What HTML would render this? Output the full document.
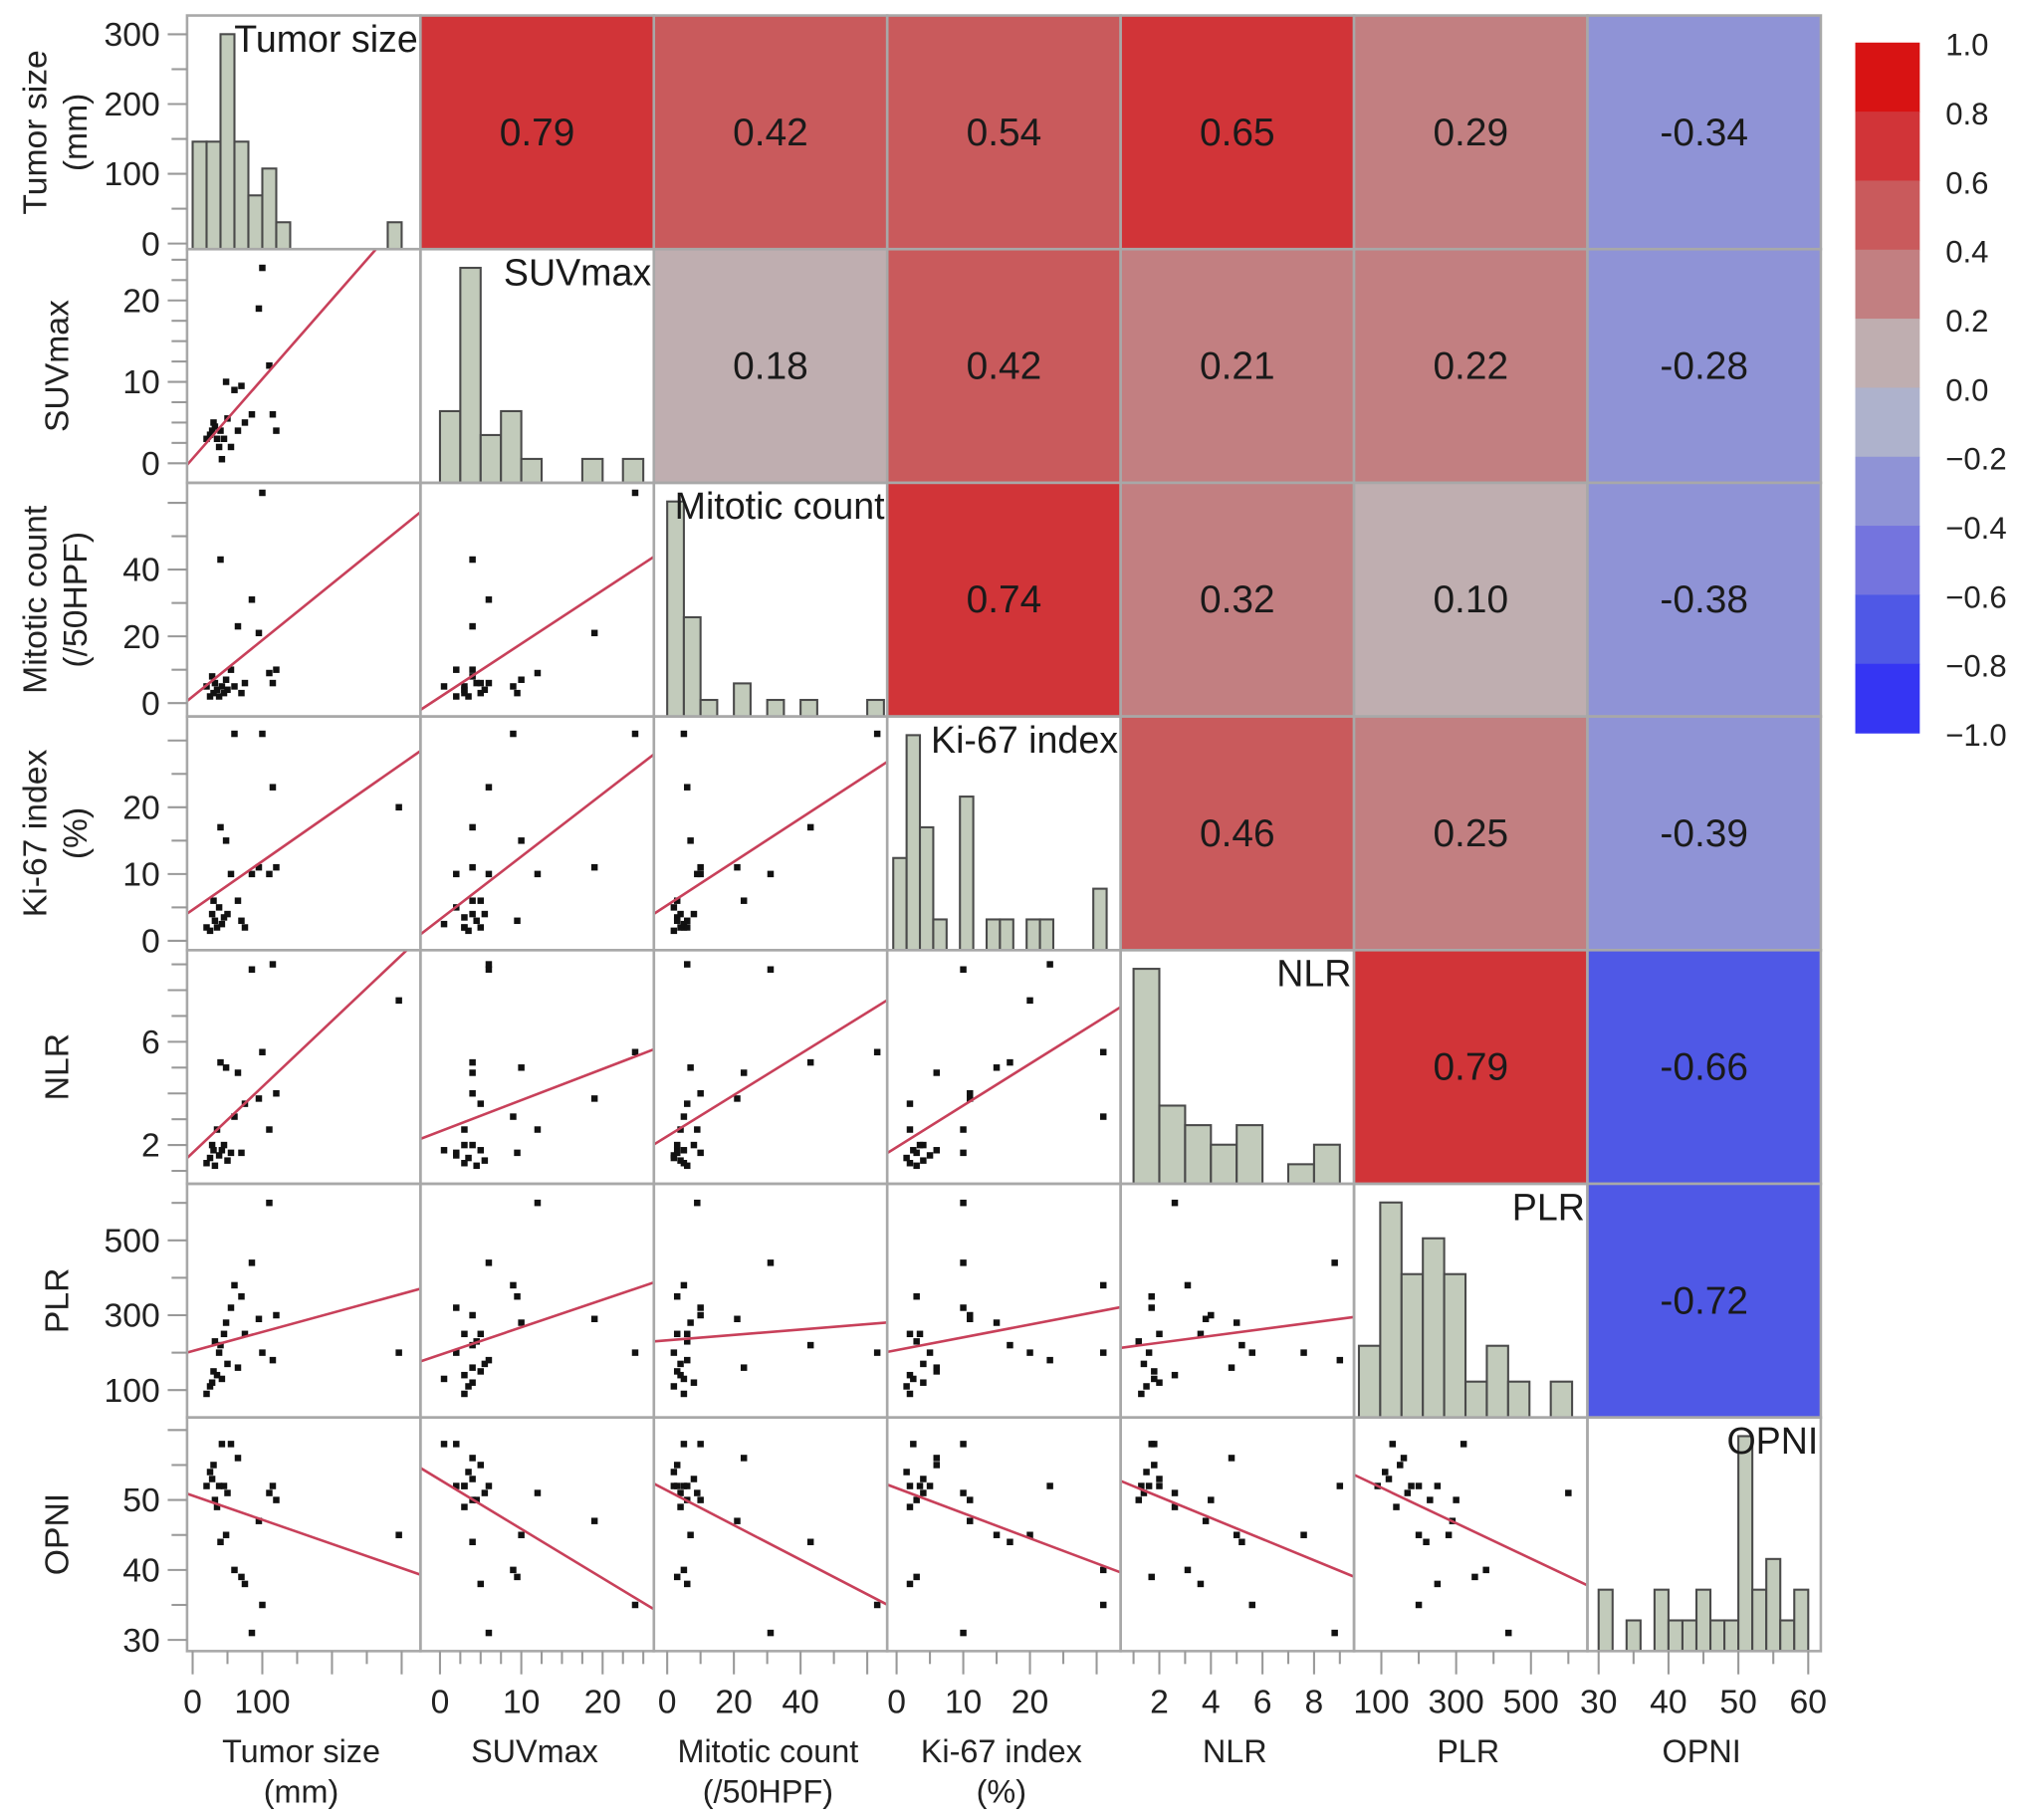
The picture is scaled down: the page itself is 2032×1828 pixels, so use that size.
<!DOCTYPE html>
<html><head><meta charset="utf-8"><style>
html,body{margin:0;padding:0;background:#fff;}
svg{display:block;font-family:"Liberation Sans",Arial,sans-serif;}
</style></head><body>
<svg id="chart" width="2032" height="1828" viewBox="0 0 1568 1410.6" preserveAspectRatio="none" xmlns="http://www.w3.org/2000/svg"></svg>
<script>
// ---- data ----
const varNames = ["Tumor size","SUVmax","Mitotic count","Ki-67 index","NLR","PLR","OPNI"];
const tumorSize = [20,25,28,30,32,35,38,40,42,45,48,50,55,60,65,70,75,85,95,100,110,115,120,296];
const suvmax    = [3,3.5,4,5,4.5,3,2,4,0.5,3,10,5.5,2,9,4,9.5,5,6,19,24,12,6,4,null];
const mitotic   = [5,2,8,3,6,4,2,43,5,3,7,4,10,5,23,3,6,31,21,63,9,6,10,null];
const ki67      = [2,1.5,4,6,3,2,5,17,2.5,3.5,15,4,10,31,6,3,2,10,11,31,10,23,11,20];
const nlr       = [1.3,1.5,2.0,1.8,1.2,2.6,1.6,5.2,1.8,2.0,5.0,1.4,1.7,3.1,4.8,1.7,3.6,8.8,3.8,5.6,2.6,9.0,4.0,7.6];
const plr       = [90,110,120,150,230,140,200,220,130,250,280,170,320,380,160,350,250,440,290,200,600,180,300,200];
const opni      = [52,54,53,55,50,49,52,44,58,52,45,51,58,40,56,39,38,31,47,35,51,52,50,45];
const corrValues = [
  [0.79,0.42,0.54,0.65,0.29,-0.34],
  [0.18,0.42,0.21,0.22,-0.28],
  [0.74,0.32,0.10,-0.38],
  [0.46,0.25,-0.39],
  [0.79,-0.66],
  [-0.72]
];
const histTumorCounts = [4,4,8,4,2,3,1,0,0,0,0,0,0,0,1];
const histSuvCounts = [3,9,2,3,1,0,0,1,0,1];
const histMitoticCounts = [13,6,1,0,2,0,1,0,1,0,0,0,1];
const histKiCounts = [3,7,4,1,0,5,0,1,1,0,1,1,0,0,0,2];
const histNlrCounts = [11,4,3,2,3,0,1,2];
const histPlrCounts = [2,6,4,5,4,1,2,1,0,1];
const histOpniCounts = [2,0,1,0,2,1,1,2,1,1,7,2,3,1,2];
const histOrigins = [0,0,0,-0.5,1,40,30];
const histWidths = [20,2.5,5,2,1,57,2];
const leftTickLabels = [[0,100,200,300],[0,10,20],[0,20,40],[0,10,20],[2,6],[100,300,500],[30,40,50]];
const bottomTickLabels = [[0,100],[0,10,20],[0,20,40],[0,10,20],[2,4,6,8],[100,300,500],[30,40,50,60]];
const majorTicks = [[0,100,200,300],[0,10,20],[0,20,40,60],[0,10,20,30],[2,4,6,8],[100,300,500],[30,40,50,60]];
const minorTicks = [[50,150,250],[2.5,5,7.5,12.5,15,17.5,22.5,25],[10,30,50],[5,15,25],[1,3,5,7,9],[200,400,600],[35,45,55]];
const colorbarLabels = ["1.0","0.8","0.6","0.4","0.2","0.0","\u22120.2","\u22120.4","\u22120.6","\u22120.8","\u22121.0"];
const colorBands = ["#3535f3","#4f58e6","#7474de","#8f93d6","#aeb2cc","#bfaeb0","#c27f81","#c95a5c","#d13438","#d81313"];

const series = [tumorSize,suvmax,mitotic,ki67,nlr,plr,opni];
const hists = [histTumorCounts,histSuvCounts,histMitoticCounts,histKiCounts,histNlrCounts,histPlrCounts,histOpniCounts];
const domains = [[-8,327],[-2.4,26.3],[-4,66],[-1.4,33.6],[0.5,9.55],[27,651],[28.4,61.8]];
const leftTitles = [["Tumor size","(mm)"],["SUVmax"],["Mitotic count","(/50HPF)"],["Ki-67 index","(%)"],["NLR"],["PLR"],["OPNI"]];
const bottomTitles = leftTitles;

// ---- layout ----
const NS="http://www.w3.org/2000/svg";
const svg=document.getElementById("chart");
const X0=145, Y0=12, CW=180.9, CH=181.1, N=7;
function mk(tag,attrs,parent){const e=document.createElementNS(NS,tag);for(const k in attrs)e.setAttribute(k,attrs[k]);(parent||svg).appendChild(e);return e;}
function xs(v,c,val){const d=domains[v];return X0+c*CW+(val-d[0])/(d[1]-d[0])*CW;}
function ys(v,r,val){const d=domains[v];return Y0+(r+1)*CH-(val-d[0])/(d[1]-d[0])*CH;}
function corrColor(r){let b=Math.floor((r+1)/0.2);if(b<0)b=0;if(b>9)b=9;return colorBands[b];}

const defs=mk("defs",{});
for(let r=0;r<N;r++)for(let c=0;c<N;c++){
  const cp=mk("clipPath",{id:"cp"+r+"_"+c},defs);
  mk("rect",{x:X0+c*CW,y:Y0+r*CH,width:CW,height:CH},cp);
}

for(let r=0;r<N;r++){
  for(let c=0;c<N;c++){
    const cx=X0+c*CW, cy=Y0+r*CH;
    const g=mk("g",{});
    if(c>r){
      
      
      const val=corrValues[r][c-r-1];
      mk("rect",{x:cx,y:cy,width:CW,height:CH,fill:corrColor(val)},g);
      const t=mk("text",{x:cx+CW/2,y:cy+CH/2+10,"text-anchor":"middle","font-size":30,fill:"#1a1a1a"},g);
      t.textContent=val.toFixed(2);
    } else if(c===r){
      
      
      const counts=hists[r];const mx=Math.max(...counts);
      for(let i=0;i<counts.length;i++){
        if(!counts[i])continue;
        const a=xs(r,c,histOrigins[r]+i*histWidths[r]), b=xs(r,c,histOrigins[r]+(i+1)*histWidths[r]);
        const h=counts[i]/mx*CH*0.92;
        const bar=mk("rect",{x:a,y:cy+CH-h,width:b-a,height:h,fill:"#c2cbbb",stroke:"#4a4a4a","stroke-width":1.6,"clip-path":"url(#cp"+r+"_"+c+")"},g);
        
        
      }
      const t=mk("text",{x:cx+CW-2,y:cy+28,"text-anchor":"end","font-size":29,fill:"#1a1a1a"},g);
      
      
      t.textContent=varNames[r];
    } else {
      
      
      const xv=series[c], yv=series[r];
      let n=0,sxs=0,sys=0,sxx=0,sxy=0;
      for(let i=0;i<xv.length;i++){
        if(xv[i]==null||yv[i]==null)continue;
        n++;sxs+=xv[i];sys+=yv[i];sxx+=xv[i]*xv[i];sxy+=xv[i]*yv[i];
        const p=mk("rect",{x:xs(c,c,xv[i])-2.5,y:ys(r,r,yv[i])-2.5,width:5,height:5,fill:"#111"},g);
        
        
      }
      const slope=(n*sxy-sxs*sys)/(n*sxx-sxs*sxs), icpt=(sys-slope*sxs)/n;
      const d=domains[c];
      const ln=mk("line",{x1:xs(c,c,d[0]),y1:ys(r,r,icpt+slope*d[0]),x2:xs(c,c,d[1]),y2:ys(r,r,icpt+slope*d[1]),stroke:"#c8405a","stroke-width":2,"clip-path":"url(#cp"+r+"_"+c+")"},g);
      
      
    }
    mk("rect",{x:cx,y:cy,width:CW,height:CH,fill:"none",stroke:"#a8a8a8","stroke-width":2},g);
  }
}

// left axes
for(let r=0;r<N;r++){
  const g=mk("g",{});
  
  
  const inRow=v=>{const y=ys(r,r,v);return y>=Y0+r*CH-1&&y<=Y0+(r+1)*CH+1;};
  majorTicks[r].forEach(v=>{if(!inRow(v))return;const y=ys(r,r,v);mk("line",{x1:130,x2:145,y1:y,y2:y,stroke:"#999","stroke-width":1.6},g);});
  minorTicks[r].forEach(v=>{if(!inRow(v))return;const y=ys(r,r,v);mk("line",{x1:133,x2:145,y1:y,y2:y,stroke:"#999","stroke-width":1.6},g);});
  leftTickLabels[r].forEach(v=>{const t=mk("text",{x:124,y:ys(r,r,v)+9,"text-anchor":"end","font-size":26,fill:"#222"},g);t.textContent=v;});
  const t=leftTitles[r];const cyc=Y0+r*CH+CH/2;
  const xs2=t.length===2?[27,58]:[44];
  t.forEach((s,i)=>{const tx=mk("text",{x:xs2[i],y:cyc+9,"text-anchor":"middle","font-size":26,fill:"#222",transform:"rotate(-90 "+(xs2[i])+" "+cyc+")"},g);tx.textContent=s;});
}
// bottom axes
const YB=Y0+N*CH;
for(let c=0;c<N;c++){
  const g=mk("g",{});
  
  
  const inCol=v=>{const x=xs(c,c,v);return x>=X0+c*CW-1&&x<=X0+(c+1)*CW+1;};
  majorTicks[c].forEach(v=>{if(!inCol(v))return;const x=xs(c,c,v);mk("line",{x1:x,x2:x,y1:YB,y2:YB+18,stroke:"#999","stroke-width":1.6},g);});
  minorTicks[c].forEach(v=>{if(!inCol(v))return;const x=xs(c,c,v);mk("line",{x1:x,x2:x,y1:YB,y2:YB+10,stroke:"#999","stroke-width":1.6},g);});
  bottomTickLabels[c].forEach(v=>{const t=mk("text",{x:xs(c,c,v),y:YB+48,"text-anchor":"middle","font-size":26,fill:"#222"},g);t.textContent=v;});
  const cxc=X0+c*CW+CW/2-2;
  bottomTitles[c].forEach((s,i)=>{const t=mk("text",{x:cxc,y:1366+i*31,"text-anchor":"middle","font-size":25,fill:"#222"},g);t.textContent=s;});
}
// colorbar
const cb=mk("g",{});


const CBX=1438,CBY=33,CBW=50,BH=53.5;
for(let i=0;i<colorBands.length;i++){
  const k=colorBands.length-1-i;
  const b=mk("rect",{x:CBX,y:CBY+i*BH,width:CBW,height:BH+0.5,fill:colorBands[k]},cb);
  
  
}
colorbarLabels.forEach((s,i)=>{const t=mk("text",{x:1508,y:CBY+i*BH+10,"font-size":24,fill:"#222"},cb);t.textContent=s;});
</script>
</body></html>
